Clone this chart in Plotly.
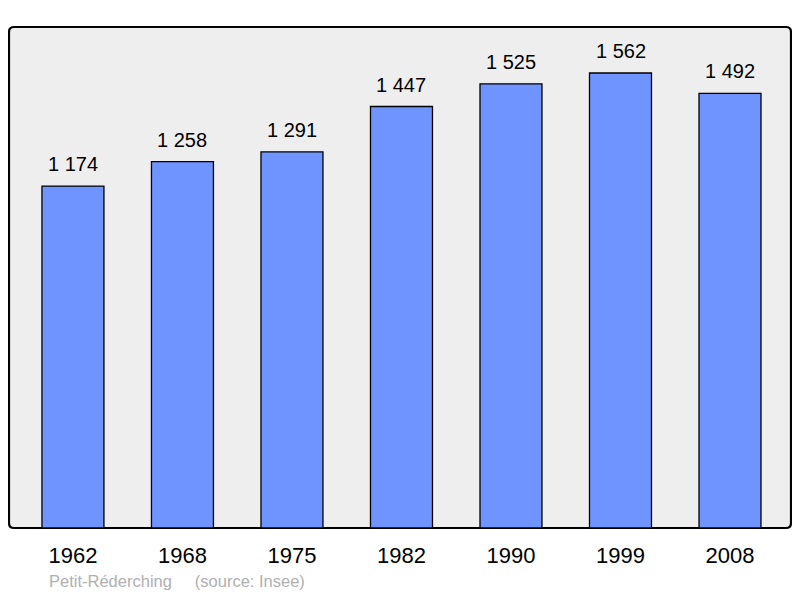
import plotly.graph_objects as go

years = ["1962", "1968", "1975", "1982", "1990", "1999", "2008"]
population = [1174, 1258, 1291, 1447, 1525, 1562, 1492]
commune = "Petit-Réderching"
source = "(source: Insee)"

xs = list(range(len(years)))
labels = [f"{v:,}".replace(",", " ") for v in population]

FONT = "Liberation Sans, Arial"
fig = go.Figure()
fig.add_trace(go.Bar(
    x=xs, y=population, width=0.566,
    marker=dict(color="#7094ff", line=dict(color="#000000", width=1.3)),
    hoverinfo="skip",
))
for x, v, t in zip(xs, population, labels):
    fig.add_annotation(x=x, y=v, text=t, showarrow=False, yanchor="bottom",
                       yshift=9, font=dict(family=FONT, size=20, color="#000"))

fig.add_annotation(xref="paper", yref="paper", x=(48 - 9) / 782, y=-(581 - 528) / 501,
                   xanchor="left", yanchor="middle", showarrow=False, borderpad=0,
                   text=commune + "\u00a0\u00a0\u00a0\u00a0\u00a0" + source,
                   font=dict(family=FONT, size=16.5, color="#b0b0b0"))

# rounded frame
rx, ry = 5 / 782, 5 / 501
path = (f"M {rx},0 L {1-rx},0 Q 1,0 1,{ry} L 1,{1-ry} Q 1,1 {1-rx},1 "
        f"L {rx},1 Q 0,1 0,{1-ry} L 0,{ry} Q 0,0 {rx},0 Z")
fig.add_shape(type="path", xref="paper", yref="paper", path=path,
              line=dict(color="#000", width=2.2), fillcolor="#eeeeee", layer="below")

fig.update_layout(
    width=784, height=582,
    margin=dict(l=1, r=1, t=19, b=62),
    paper_bgcolor="#ffffff", plot_bgcolor="rgba(0,0,0,0)",
    showlegend=False,
    xaxis=dict(range=[-0.584, 6.557], tickvals=xs, ticktext=years, showgrid=False,
               zeroline=False, showline=False, ticks="", ticklabelstandoff=12,
               tickfont=dict(family=FONT, size=22, color="#000")),
    yaxis=dict(range=[0, 1720], showgrid=False, zeroline=False, showticklabels=False,
               showline=False, ticks=""),
)
fig.write_html("out.html")
